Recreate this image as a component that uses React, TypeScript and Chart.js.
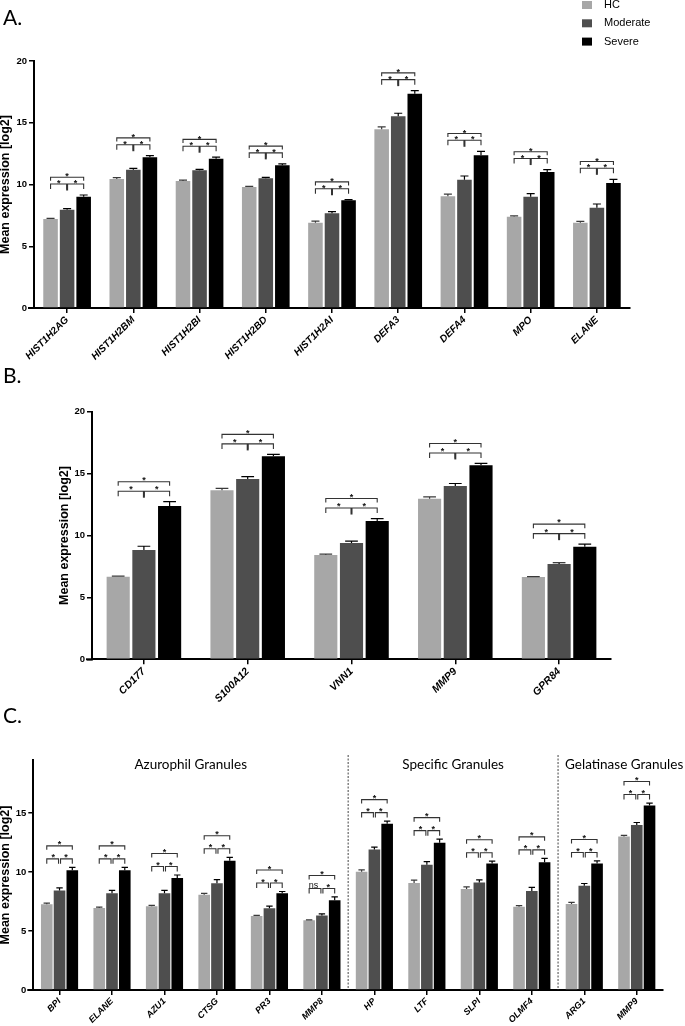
import React, { useEffect, useRef } from "react";
import { Chart, registerables } from "chart.js";

Chart.register(...registerables);

// ---------- shared ----------
const seriesNames = ["HC", "Moderate", "Severe"];
const seriesColors = ["#a7a7a7", "#4e4e4e", "#000000"];

// ---------- Panel A ----------
const genesA = ["HIST1H2AG", "HIST1H2BM", "HIST1H2BI", "HIST1H2BD", "HIST1H2AI", "DEFA3", "DEFA4", "MPO", "ELANE"];
const hcA = [7.2, 10.45, 10.28, 9.8, 6.91, 14.47, 9.05, 7.39, 6.91];
const hcErrA = [0.05, 0.1, 0.07, 0.05, 0.13, 0.2, 0.17, 0.07, 0.1];
const modA = [7.95, 11.2, 11.15, 10.5, 7.67, 15.52, 10.39, 9.01, 8.12];
const modErrA = [0.1, 0.1, 0.07, 0.07, 0.13, 0.25, 0.3, 0.25, 0.3];
const sevA = [9.0, 12.2, 12.09, 11.55, 8.72, 17.35, 12.36, 11.01, 10.12];
const sevErrA = [0.15, 0.13, 0.12, 0.12, 0.05, 0.25, 0.33, 0.2, 0.3];
const sigHcModA = ["*", "*", "*", "*", "*", "*", "*", "*", "*"];
const sigModSevA = ["*", "*", "*", "*", "*", "*", "*", "*", "*"];
const sigHcSevA = ["*", "*", "*", "*", "*", "*", "*", "*", "*"];

// ---------- Panel B ----------
const genesB = ["CD177", "S100A12", "VNN1", "MMP9", "GPR84"];
const hcB = [6.67, 13.65, 8.42, 12.97, 6.65];
const hcErrB = [0.05, 0.15, 0.07, 0.15, 0.03];
const modB = [8.83, 14.56, 9.39, 14.0, 7.7];
const modErrB = [0.3, 0.2, 0.15, 0.2, 0.1];
const sevB = [12.38, 16.4, 11.17, 15.67, 9.1];
const sevErrB = [0.35, 0.15, 0.2, 0.15, 0.2];
const sigHcModB = ["*", "*", "*", "*", "*"];
const sigModSevB = ["*", "*", "*", "*", "*"];
const sigHcSevB = ["*", "*", "*", "*", "*"];

// ---------- Panel C ----------
const genesC = ["BPI", "ELANE", "AZU1", "CTSG", "PR3", "MMP8", "HP", "LTF", "SLPI", "OLMF4", "ARG1", "MMP9"];
const hcC = [7.27, 6.96, 7.1, 8.07, 6.28, 5.92, 10.02, 9.08, 8.57, 7.05, 7.3, 13.01];
const hcErrC = [0.1, 0.07, 0.08, 0.12, 0.05, 0.02, 0.17, 0.23, 0.17, 0.1, 0.13, 0.1];
const modC = [8.43, 8.2, 8.2, 9.06, 6.93, 6.31, 11.91, 10.61, 9.11, 8.4, 8.83, 13.98];
const modErrC = [0.22, 0.25, 0.25, 0.3, 0.18, 0.14, 0.2, 0.28, 0.23, 0.3, 0.2, 0.22];
const sevC = [10.15, 10.15, 9.5, 10.95, 8.2, 7.61, 14.09, 12.48, 10.72, 10.83, 10.72, 15.65];
const sevErrC = [0.25, 0.25, 0.25, 0.3, 0.15, 0.28, 0.23, 0.31, 0.2, 0.33, 0.22, 0.2];
const sigHcModC = ["*", "*", "*", "*", "*", "ns", "*", "*", "*", "*", "*", "*"];
const sigModSevC = ["*", "*", "*", "*", "*", "*", "*", "*", "*", "*", "*", "*"];
const sigHcSevC = ["*", "*", "*", "*", "*", "*", "*", "*", "*", "*", "*", "*"];
const sectionTitlesC = ["Azurophil Granules", "Specific Granules", "Gelatinase Granules"];
const sectionStartsC = [0, 6, 10];

const yTitle = "Mean expression [log2]";
const yTicks = [0, 5, 10, 15, 20];

const FONT = "'Liberation Sans', Arial, sans-serif";
const HUMANIST = "Lato, 'Open Sans', sans-serif";

type Panel = {
  letter: string;
  labels: string[];
  values: number[][];
  errs: number[][];
  sig: string[][];
  yMax: number;
  canvasTop: number;
  canvasH: number;
  area: { left: number; right: number; top: number; bottom: number };
  catPct: number;
  barPct: number;
  xFont: number;
  yTitleX: number;
  letterBaseline: number;
  br: { lowerOff: number; gap: number; upperLeg: number; lowerLeg: number; midGap: number; starOff: number };
  legend?: boolean;
  sections?: { titles: string[]; starts: number[] };
};

const panels: Panel[] = [
  {
    letter: "A.",
    labels: genesA,
    values: [hcA, modA, sevA],
    errs: [hcErrA, modErrA, sevErrA],
    sig: [sigHcModA, sigModSevA, sigHcSevA],
    yMax: 20,
    canvasTop: 0,
    canvasH: 365,
    area: { left: 34, right: 630, top: 61, bottom: 308 },
    catPct: 0.75,
    barPct: 0.88,
    xFont: 10,
    yTitleX: 6,
    letterBaseline: 25,
    br: { lowerOff: 11, gap: 6.8, upperLeg: 3.5, lowerLeg: 5, midGap: 0, starOff: 3 },
    legend: true,
  },
  {
    letter: "B.",
    labels: genesB,
    values: [hcB, modB, sevB],
    errs: [hcErrB, modErrB, sevErrB],
    sig: [sigHcModB, sigModSevB, sigHcSevB],
    yMax: 20,
    canvasTop: 365,
    canvasH: 340,
    area: { left: 92, right: 611, top: 411.7, bottom: 659.3 },
    catPct: 0.743,
    barPct: 0.9,
    xFont: 10.5,
    yTitleX: 64.5,
    letterBaseline: 383,
    br: { lowerOff: 10.5, gap: 9.5, upperLeg: 4, lowerLeg: 5, midGap: 0, starOff: 4 },
  },
  {
    letter: "C.",
    labels: genesC,
    values: [hcC, modC, sevC],
    errs: [hcErrC, modErrC, sevErrC],
    sig: [sigHcModC, sigModSevC, sigHcSevC],
    yMax: 19.5,
    canvasTop: 705,
    canvasH: 321,
    area: { left: 33.3, right: 663, top: 760, bottom: 990 },
    catPct: 0.73,
    barPct: 0.91,
    xFont: 9,
    yTitleX: 5.5,
    letterBaseline: 722.5,
    br: { lowerOff: 8.5, gap: 13, upperLeg: 4, lowerLeg: 5, midGap: 2, starOff: 3.5 },
    sections: { titles: sectionTitlesC, starts: sectionStartsC },
  },
];

function drawStar(ctx: CanvasRenderingContext2D, text: string, x: number, cy: number) {
  ctx.textAlign = "center";
  ctx.textBaseline = "alphabetic";
  if (text === "*") {
    ctx.font = `bold 9px ${FONT}`;
    ctx.fillText(text, x, cy + 0.57 * 9);
  } else {
    ctx.font = `9px ${FONT}`;
    ctx.fillText(text, x - 2, cy + 0.26 * 9 + 1);
  }
}

function makePlugin(p: Panel) {
  return {
    id: "decor" + p.letter,
    afterDatasetsDraw(chart: any) {
      const ctx: CanvasRenderingContext2D = chart.ctx;
      const ys = chart.scales.y;
      const xs = chart.scales.x;
      const ca = chart.chartArea;
      const off = p.canvasTop;
      ctx.save();
      // error bars
      chart.data.datasets.forEach((ds: any, i: number) => {
        const meta = chart.getDatasetMeta(i);
        meta.data.forEach((bar: any, j: number) => {
          const v = ds.data[j];
          const e = ds.errs[j];
          const y0 = ys.getPixelForValue(v);
          const y1 = ys.getPixelForValue(v + e);
          const w = bar.width * 0.55;
          ctx.strokeStyle = i === 0 ? "#3a3a3a" : "#000";
          ctx.lineWidth = 1.2;
          ctx.beginPath();
          ctx.moveTo(bar.x, y0);
          ctx.lineTo(bar.x, y1);
          ctx.moveTo(bar.x - w / 2, y1);
          ctx.lineTo(bar.x + w / 2, y1);
          ctx.stroke();
        });
      });
      // brackets
      const m0 = chart.getDatasetMeta(0).data;
      const m1 = chart.getDatasetMeta(1).data;
      const m2 = chart.getDatasetMeta(2).data;
      p.labels.forEach((_, j) => {
        let top = Infinity;
        chart.data.datasets.forEach((ds: any) => {
          top = Math.min(top, ys.getPixelForValue(ds.data[j] + ds.errs[j]));
        });
        const x0 = m0[j].x, x1 = m1[j].x, x2 = m2[j].x;
        const lowY = top - p.br.lowerOff;
        const upY = lowY - p.br.gap;
        const g = p.br.midGap / 2;
        ctx.strokeStyle = "#333";
        ctx.lineWidth = 1.1;
        ctx.beginPath();
        ctx.moveTo(x0, lowY + p.br.lowerLeg);
        ctx.lineTo(x0, lowY);
        ctx.lineTo(x1 - g, lowY);
        ctx.lineTo(x1 - g, lowY + p.br.lowerLeg);
        ctx.moveTo(x1 + g, lowY + p.br.lowerLeg);
        ctx.lineTo(x1 + g, lowY);
        ctx.lineTo(x2, lowY);
        ctx.lineTo(x2, lowY + p.br.lowerLeg);
        ctx.moveTo(x0, upY + p.br.upperLeg);
        ctx.lineTo(x0, upY);
        ctx.lineTo(x2, upY);
        ctx.lineTo(x2, upY + p.br.upperLeg);
        ctx.stroke();
        if (p.br.midGap === 0) {
          ctx.lineWidth = 2;
          ctx.beginPath();
          ctx.moveTo(x1, lowY);
          ctx.lineTo(x1, lowY + p.br.lowerLeg + 1.5);
          ctx.stroke();
        }
        ctx.fillStyle = "#111";
        drawStar(ctx, p.sig[0][j], (x0 + x1) / 2, lowY - p.br.starOff);
        drawStar(ctx, p.sig[1][j], (x1 + x2) / 2, lowY - p.br.starOff);
        drawStar(ctx, p.sig[2][j], (x0 + x2) / 2, upY - p.br.starOff);
      });
      // axis stub extending x axis to the left
      ctx.strokeStyle = "#000";
      ctx.lineWidth = 2;
      ctx.beginPath();
      ctx.moveTo(ca.left - 6, ca.bottom);
      ctx.lineTo(ca.left, ca.bottom);
      ctx.stroke();
      // y-axis title
      ctx.fillStyle = "#000";
      ctx.font = `bold 12.5px ${FONT}`;
      ctx.textAlign = "center";
      ctx.textBaseline = "middle";
      ctx.save();
      ctx.translate(p.yTitleX, (ca.top + ca.bottom) / 2);
      ctx.rotate(-Math.PI / 2);
      ctx.fillText(yTitle, 0, 0);
      ctx.restore();
      // panel letter
      ctx.font = `21px ${HUMANIST}`;
      ctx.textAlign = "left";
      ctx.textBaseline = "alphabetic";
      ctx.fillText(p.letter, 3, p.letterBaseline - off);
      // legend
      if (p.legend) {
        seriesNames.forEach((name, i) => {
          const cy = 5 + i * 18.3;
          ctx.fillStyle = seriesColors[i];
          ctx.fillRect(582, cy - 4, 10, 8);
          ctx.fillStyle = "#000";
          ctx.font = `11px ${FONT}`;
          ctx.textAlign = "left";
          ctx.textBaseline = "middle";
          ctx.fillText(name, 604, cy);
        });
      }
      // sections
      if (p.sections) {
        const half = (xs.getPixelForValue(1) - xs.getPixelForValue(0)) / 2;
        const bounds = p.sections.starts.map((s) => xs.getPixelForValue(s) - half);
        bounds.push(ca.right);
        ctx.strokeStyle = "#444";
        ctx.lineWidth = 1;
        ctx.setLineDash([2, 1.5]);
        p.sections.starts.forEach((s, k) => {
          if (k === 0) return;
          const x = bounds[k];
          ctx.beginPath();
          ctx.moveTo(x, ca.top - 5);
          ctx.lineTo(x, ca.bottom);
          ctx.stroke();
        });
        ctx.setLineDash([]);
        ctx.fillStyle = "#000";
        ctx.font = `13.5px ${HUMANIST}`;
        ctx.textBaseline = "middle";
        p.sections.titles.forEach((t, k) => {
          const last = k === p.sections!.titles.length - 1;
          if (last) {
            ctx.textAlign = "left";
            ctx.fillText(t, bounds[k] + 7, ca.top + 5);
          } else {
            ctx.textAlign = "center";
            ctx.fillText(t, (bounds[k] + bounds[k + 1]) / 2, ca.top + 5);
          }
        });
      }
      ctx.restore();
    },
  };
}

function PanelChart({ p }: { p: Panel }) {
  const ref = useRef<HTMLCanvasElement>(null);
  useEffect(() => {
    const canvas = ref.current!;
    const xH = p.canvasTop + p.canvasH - p.area.bottom;
    const chart = new Chart(canvas, {
      type: "bar",
      data: {
        labels: p.labels,
        datasets: seriesNames.map((name, i) => ({
          label: name,
          data: p.values[i],
          errs: p.errs[i],
          backgroundColor: seriesColors[i],
          borderWidth: 0,
          categoryPercentage: p.catPct,
          barPercentage: p.barPct,
        })) as any,
      },
      options: {
        responsive: false,
        animation: false,
        devicePixelRatio: 1,
        layout: {
          padding: { top: p.area.top - p.canvasTop, left: 0, right: 685 - p.area.right, bottom: 0 },
        },
        plugins: { legend: { display: false }, tooltip: { enabled: false }, title: { display: false } },
        scales: {
          x: {
            grid: { display: true, drawOnChartArea: false, drawTicks: true, tickLength: 5, offset: false, color: "#000", lineWidth: 1.5 },
            border: { display: true, color: "#000", width: 2 },
            ticks: {
              color: "#000",
              autoSkip: false,
              minRotation: 45,
              maxRotation: 45,
              padding: 1,
              font: { family: FONT, size: p.xFont, weight: "bold", style: "italic" },
            },
            afterFit(scale: any) {
              scale.height = xH;
              scale.paddingLeft = 0;
              scale.paddingRight = 0;
            },
          },
          y: {
            min: 0,
            max: p.yMax,
            grid: { display: true, drawOnChartArea: false, drawTicks: true, tickLength: 5, color: "#000", lineWidth: 1.5 },
            border: { display: true, color: "#000", width: 2 },
            afterBuildTicks(scale: any) {
              scale.ticks = yTicks.filter((v) => v <= p.yMax).map((v) => ({ value: v }));
            },
            ticks: {
              color: "#000",
              padding: 2,
              font: { family: FONT, size: 9.5, weight: "bold" },
            },
            afterFit(scale: any) {
              scale.width = p.area.left;
              scale.paddingTop = 0;
              scale.paddingBottom = 0;
            },
          },
        },
      } as any,
      plugins: [makePlugin(p)],
    });
    return () => chart.destroy();
  }, []);
  return (
    <canvas
      ref={ref}
      width={685}
      height={p.canvasH}
      style={{ position: "absolute", left: 0, top: p.canvasTop, width: 685, height: p.canvasH, display: "block" }}
    />
  );
}

export default function App() {
  return (
    <div style={{ position: "absolute", left: 0, top: 0, width: 685, height: 1026, background: "#fff", overflow: "hidden" }}>
      {panels.map((p) => (
        <PanelChart key={p.letter} p={p} />
      ))}
    </div>
  );
}
